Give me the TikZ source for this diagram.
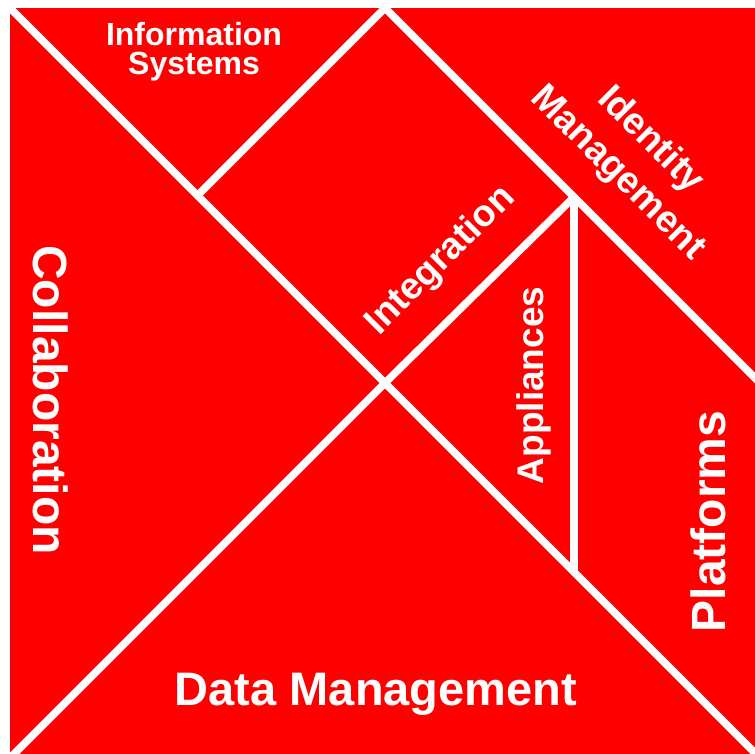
\documentclass[tikz,border=0pt]{standalone}
\usepackage{fontspec}
\setmainfont{Liberation Sans}
\begin{document}
\begin{tikzpicture}[x=1pt,y=1pt,
  cut/.style={white, line width=7.5pt, line cap=round},
  lbl/.style={text=white, inner sep=0pt},
]
\useasboundingbox (0,0) rectangle (755,753);
\clip (0,0) rectangle (755,753);
\fill[red] (10,-5) rectangle (760,745);
\coordinate (A) at (10,745);
\coordinate (M) at (385,745);
\coordinate (Q) at (197.5,557.5);
\coordinate (O) at (385,370);
\coordinate (P) at (574,556);
\coordinate (S) at (574,181);
\coordinate (R) at (760,370);
\coordinate (C) at (760,-5);
\coordinate (D) at (10,-5);
\draw[cut] (A) -- (C);
\draw[cut] (D) -- (O);
\draw[cut] (M) -- (Q);
\draw[cut] (O) -- (P);
\draw[cut] (M) -- (R);
\draw[cut] (P) -- (S);
\node[lbl, font=\fontsize{32}{29}\selectfont\bfseries, align=center] (info) at (194,701) {Information\\Systems};
\node[lbl, font=\fontsize{47}{47}\selectfont\bfseries, anchor=base] (data) at (376,48) {Data Management};
\node[lbl, font=\fontsize{48}{48}\selectfont\bfseries, anchor=base, rotate=-90] (collab) at (33,353) {Collaboration};
\node[lbl, font=\fontsize{37}{37}\selectfont\bfseries, anchor=base, rotate=90] (appl) at (543,367.5) {Appliances};
\node[lbl, font=\fontsize{48}{48}\selectfont\bfseries, anchor=base, rotate=90] (plat) at (725,231.5) {Platforms};
\node[lbl, font=\fontsize{37.5}{37.5}\selectfont\bfseries, rotate=45] (integ) at (441,492) {Integration};
\node[lbl, font=\fontsize{37.5}{46}\selectfont\bfseries, rotate=-45, align=center] (ident) at (634,596) {Identity\\Management};
\end{tikzpicture}
\end{document}
